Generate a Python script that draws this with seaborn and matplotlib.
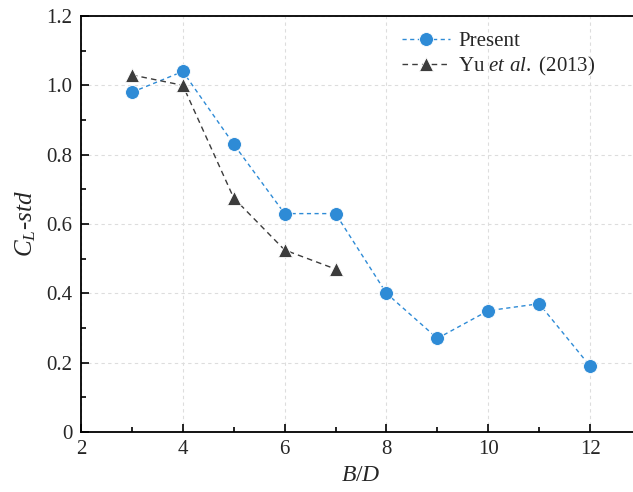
import matplotlib
matplotlib.use("Agg")
import matplotlib.pyplot as plt
import seaborn as sns
import pandas as pd
from matplotlib.ticker import MultipleLocator

# Aspect ratio B/D and lift-coefficient standard deviation
ratio_present = [3, 4, 5, 6, 7, 8, 9, 10, 11, 12]
cl_present = [0.98, 1.04, 0.83, 0.63, 0.63, 0.40, 0.27, 0.35, 0.37, 0.19]
ratio_yu = [3, 4, 5, 6, 7]
cl_yu = [1.03, 1.00, 0.675, 0.525, 0.47]

label_present = "Present"
label_yu = r"Yu $et$ $al.$ (2013)"

sns.set_style("ticks")
plt.rcParams["font.family"] = ["Liberation Serif", "DejaVu Serif"]
plt.rcParams["mathtext.fontset"] = "custom"
plt.rcParams["mathtext.rm"] = "Liberation Serif"
plt.rcParams["mathtext.it"] = "Liberation Serif:italic"

df_present = pd.DataFrame({"B/D": ratio_present, "CL": cl_present})
df_yu = pd.DataFrame({"B/D": ratio_yu, "CL": cl_yu})

fig = plt.figure(figsize=(6.33, 4.92), dpi=100)
ax = fig.add_axes([81 / 633, 1 - 432 / 492, 560 / 633, 416 / 492])

blue = "#2e8bd6"
dark = "#3c3c3c"

sns.lineplot(data=df_present, x="B/D", y="CL", ax=ax, color=blue,
             linestyle=(0, (3, 2.5)), linewidth=1.0, marker="o",
             markersize=10, markeredgecolor="white", markeredgewidth=0.6,
             label=label_present)
sns.lineplot(data=df_yu, x="B/D", y="CL", ax=ax, color=dark,
             linestyle=(0, (4, 3)), linewidth=1.0, marker="^",
             markersize=10, markeredgecolor="white", markeredgewidth=0.6,
             label=label_yu)

ax.set_xlim(2, 13)
ax.set_ylim(0, 1.2)
ax.xaxis.set_major_locator(MultipleLocator(2))
ax.xaxis.set_minor_locator(MultipleLocator(1))
ax.yaxis.set_minor_locator(MultipleLocator(0.1))
ax.set_yticks([0, 0.2, 0.4, 0.6, 0.8, 1.0, 1.2])
ax.set_yticklabels(["0", "0.2", "0.4", "0.6", "0.8", "1.0", "1.2"])

ax.tick_params(which="major", direction="in", length=6, width=1.2,
               labelsize=15, color="black", pad=6)
ax.tick_params(which="minor", direction="in", length=3.5, width=1.2,
               color="black")
ax.tick_params(top=False, right=False)

ax.grid(True, which="major", linestyle=(0, (3, 3)), color="#dddddd",
        linewidth=0.8)
for s in ax.spines.values():
    s.set_linewidth(1.3)
    s.set_color("black")

ax.set_xlabel(r"$B/D$", fontsize=17, labelpad=4)
ax.set_ylabel(r"$C_L$-$std$", fontsize=18, labelpad=6)

leg = ax.legend(loc="upper left", bbox_to_anchor=(0.54, 1.008),
                frameon=False, fontsize=15, handlelength=2.3,
                handletextpad=0.4, labelspacing=0.2)

fig.savefig("out.png", dpi=100)
